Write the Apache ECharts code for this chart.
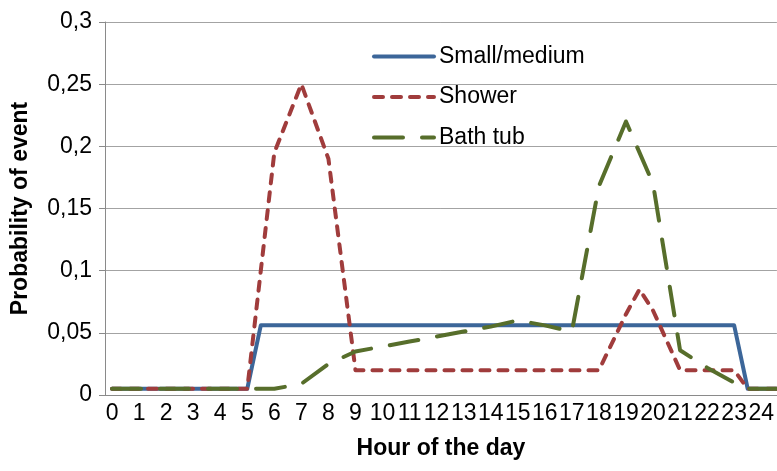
<!DOCTYPE html>
<html>
<head>
<meta charset="utf-8">
<script src="https://cdn.jsdelivr.net/npm/echarts@6/dist/echarts.min.js"></script>
<style>
  html, body { margin: 0; padding: 0; background: #fff; }
  #chart { width: 777px; height: 471px; }
</style>
</head>
<body>
<div id="chart"></div>
<script>
// Hour-of-day tick labels and probability tick labels
const hourTicks = [0,1,2,3,4,5,6,7,8,9,10,11,12,13,14,15,16,17,18,19,20,21,22,23,24];
const probTickLabels = ['0', '0,05', '0,1', '0,15', '0,2', '0,25', '0,3'];

// Small/medium draw-off profile
const smallHours = [0, 5, 5.5, 23, 23.5, 24.6];
const smallProb  = [0.005, 0.005, 0.056, 0.056, 0.005, 0.005];

// Shower profile
const showerHours = [0, 5, 6, 7, 8, 9, 18, 19, 19.5, 20, 21, 23, 23.5, 24.6];
const showerProb  = [0.005, 0.005, 0.195, 0.25, 0.19, 0.02, 0.02, 0.065, 0.085, 0.068, 0.02, 0.02, 0.005, 0.005];

// Bath tub profile
const bathHours = [0, 6, 7, 8, 9, 10, 11, 12, 13, 14, 15, 16, 17, 18, 19, 20, 21, 22, 23, 23.5, 24.6];
const bathProb  = [0.005, 0.005, 0.009, 0.025, 0.035, 0.039, 0.043, 0.047, 0.051, 0.055, 0.06, 0.056, 0.051, 0.168, 0.22, 0.17, 0.036, 0.022, 0.01, 0.005, 0.005];

const pairs = (xs, ys) => xs.map((x, i) => [x, ys[i]]);

const FONT = '"Liberation Sans", Arial, sans-serif';
const AXIS_GRAY = '#8a8a8a';
const TEXT_SIZE = 23;

const chart = echarts.init(document.getElementById('chart'), null, { renderer: 'canvas' });

chart.setOption({
  animation: false,
  backgroundColor: '#ffffff',
  textStyle: { fontFamily: FONT },
  grid: { left: 105, top: 22, right: 0, bottom: 76, containLabel: false },
  legend: {
    orient: 'vertical',
    left: 367,
    top: 40,
    itemWidth: 60,
    itemHeight: 24,
    itemGap: 17.5,
    lineStyle: { width: 4 },
    itemStyle: { opacity: 0 },
    textStyle: { fontFamily: FONT, fontSize: TEXT_SIZE, color: '#000' },
    data: ['Small/medium', 'Shower', 'Bath tub']
  },
  xAxis: {
    type: 'value',
    min: -0.26,
    max: 24.58,
    name: 'Hour of the day',
    nameLocation: 'middle',
    nameGap: 42,
    nameTextStyle: { fontFamily: FONT, fontSize: TEXT_SIZE, fontWeight: 'bold', color: '#000' },
    axisLine: { show: true, onZero: false, lineStyle: { color: AXIS_GRAY, width: 1 } },
    axisTick: { show: false },
    splitLine: { show: false },
    axisLabel: {
      customValues: hourTicks,
      formatter: v => String(v),
      fontFamily: FONT,
      fontSize: TEXT_SIZE,
      color: '#000',
      margin: 7
    }
  },
  yAxis: {
    type: 'value',
    min: 0,
    max: 0.3,
    interval: 0.05,
    name: 'Probability of event',
    nameLocation: 'middle',
    nameGap: 73,
    nameRotate: 90,
    nameTextStyle: { fontFamily: FONT, fontSize: TEXT_SIZE, fontWeight: 'bold', color: '#000' },
    axisLine: { show: true, onZero: false, lineStyle: { color: AXIS_GRAY, width: 1 } },
    axisTick: { show: true, length: 6, lineStyle: { color: AXIS_GRAY } },
    splitLine: { show: true, lineStyle: { color: '#a3a3a3', width: 1 } },
    axisLabel: {
      formatter: v => probTickLabels[Math.round(v / 0.05)],
      fontFamily: FONT,
      fontSize: TEXT_SIZE,
      color: '#000',
      margin: 13
    }
  },
  series: [
    {
      name: 'Small/medium',
      type: 'line',
      symbol: 'none',
      data: pairs(smallHours, smallProb),
      lineStyle: { color: '#3C6699', width: 4, cap: 'round', join: 'round' },
      itemStyle: { color: '#3C6699' }
    },
    {
      name: 'Shower',
      type: 'line',
      symbol: 'none',
      data: pairs(showerHours, showerProb),
      lineStyle: { color: '#A03C3C', width: 4, type: [9, 9], cap: 'round', join: 'round' },
      itemStyle: { color: '#A03C3C' }
    },
    {
      name: 'Bath tub',
      type: 'line',
      symbol: 'none',
      data: pairs(bathHours, bathProb),
      lineStyle: { color: '#576E2B', width: 4, type: [29, 19], cap: 'round', join: 'round' },
      itemStyle: { color: '#576E2B' }
    }
  ]
});
</script>
</body>
</html>
